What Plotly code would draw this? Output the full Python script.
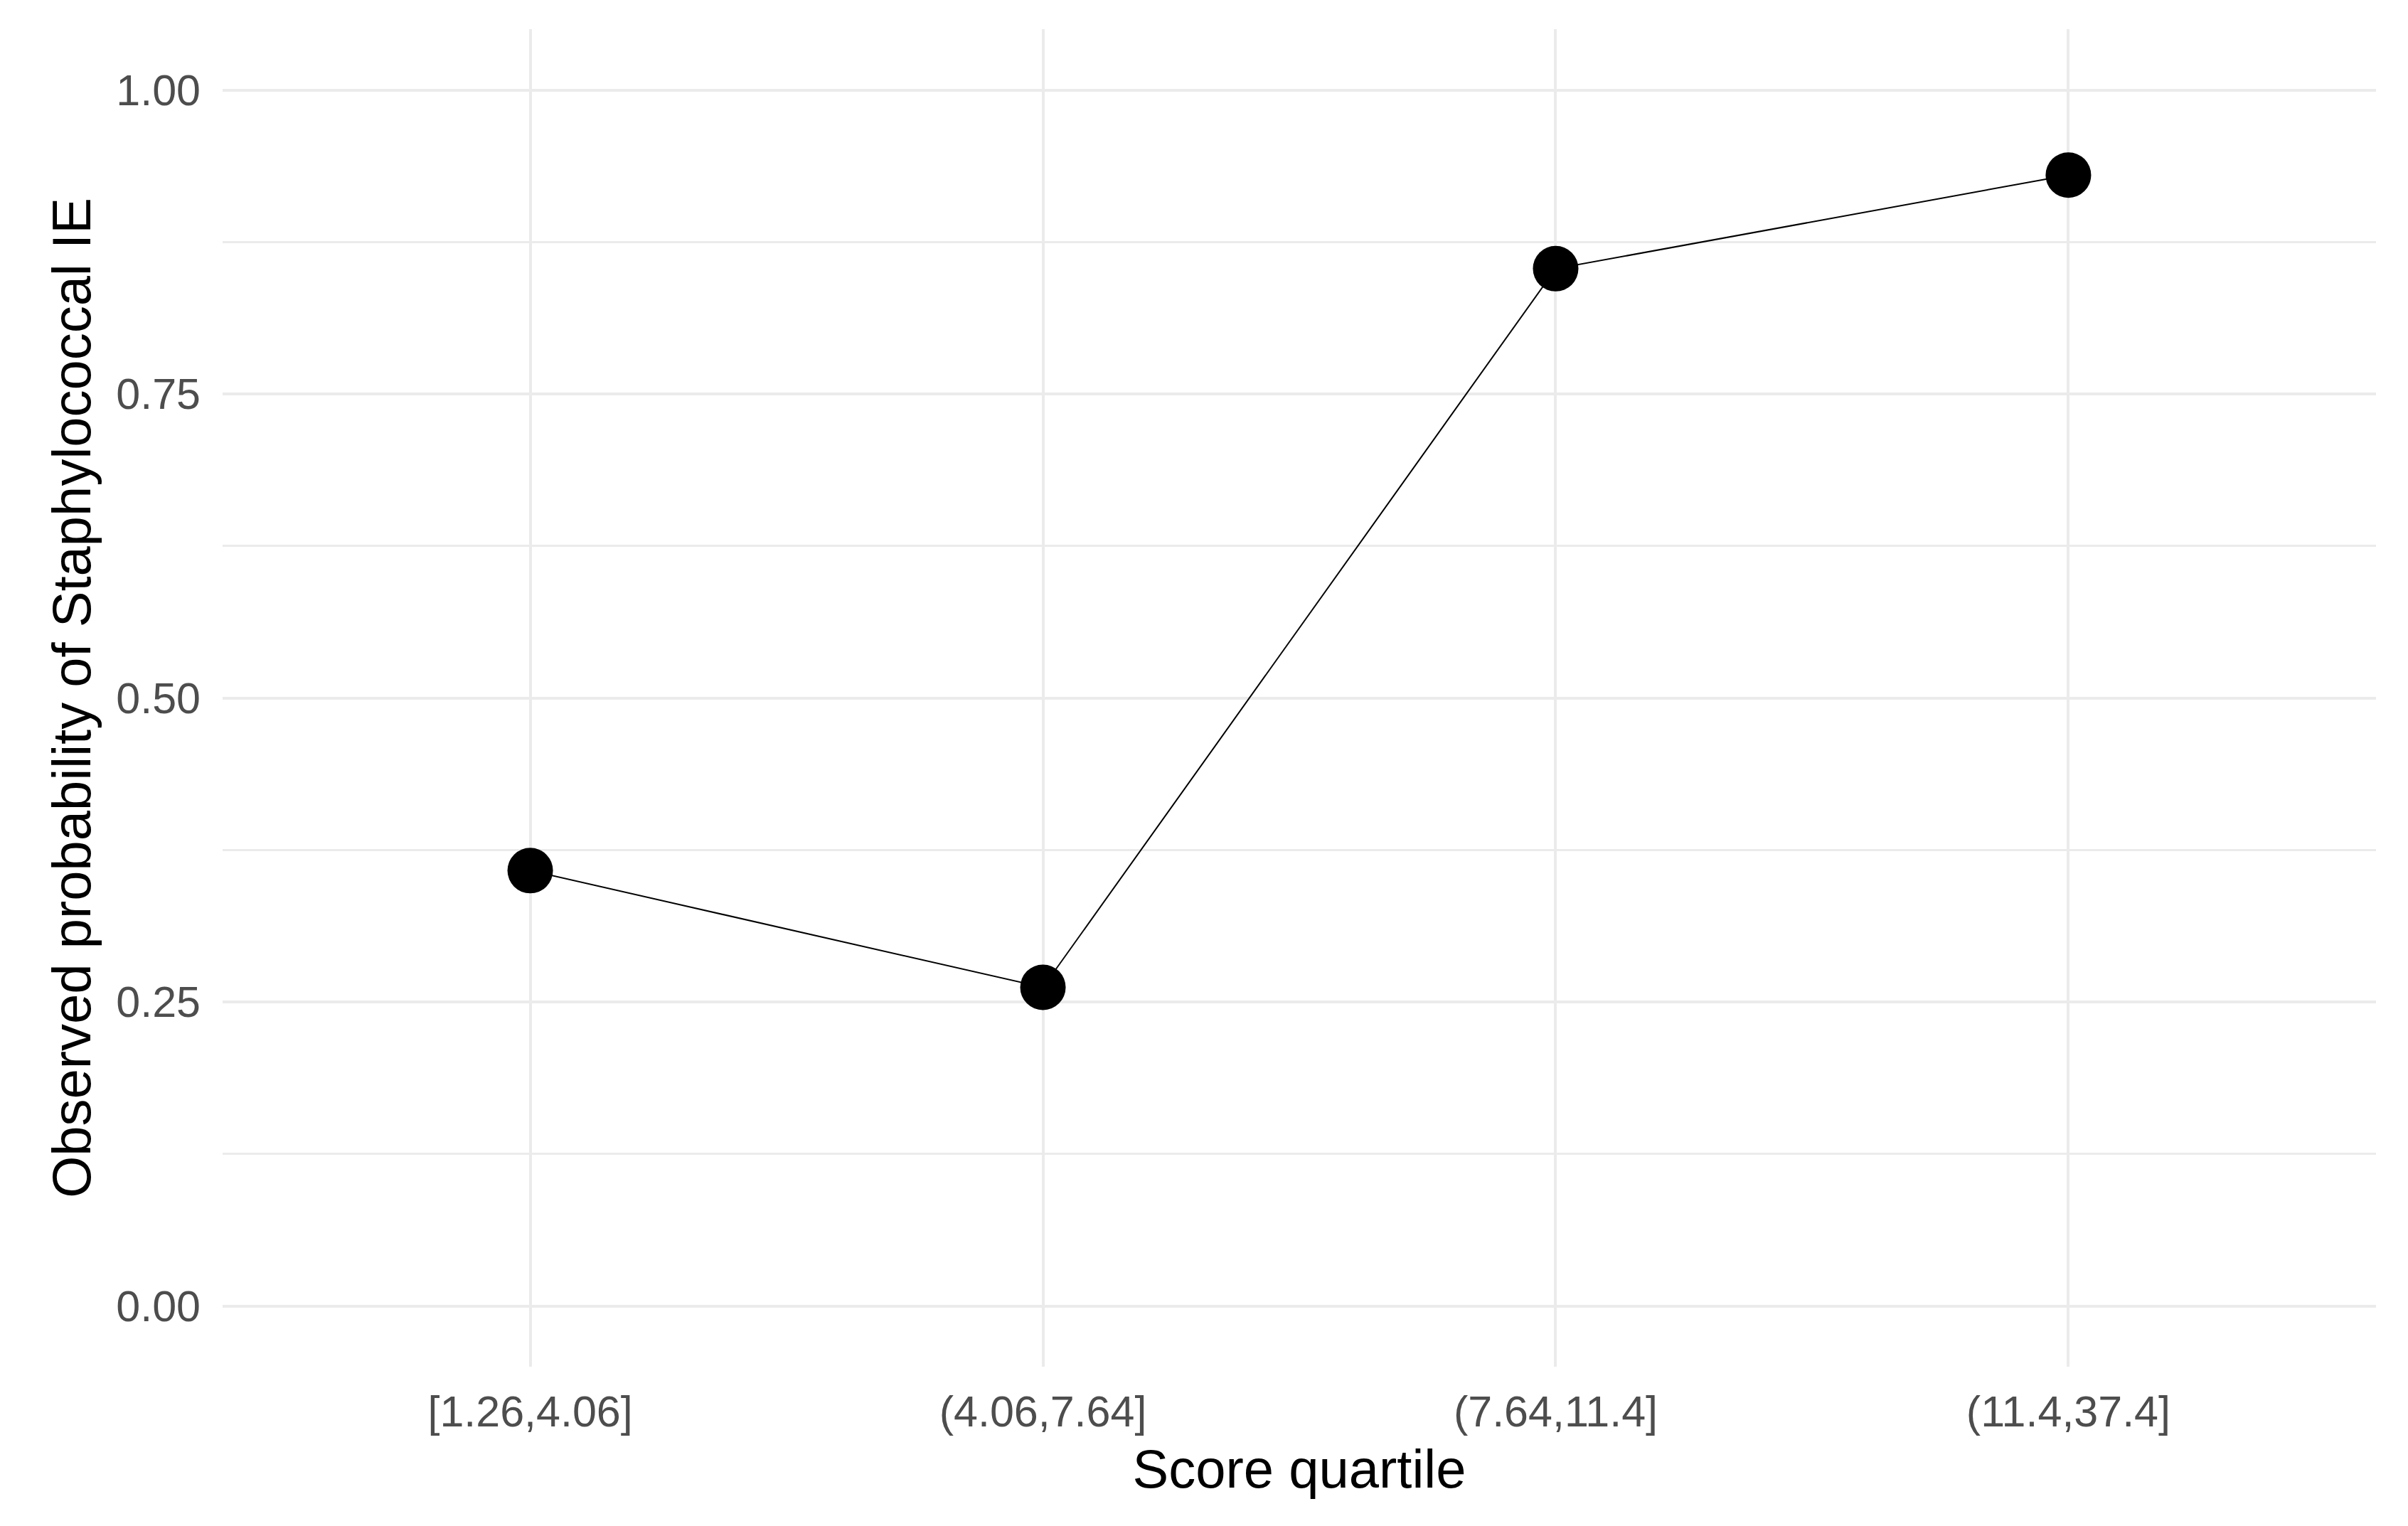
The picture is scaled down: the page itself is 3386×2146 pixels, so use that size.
import plotly.graph_objects as go

# Observed probability by score quartile
quartiles = ["[1.26,4.06]", "(4.06,7.64]", "(7.64,11.4]", "(11.4,37.4]"]
observed_prob = [0.358, 0.262, 0.853, 0.930]

y_ticks = [0.0, 0.25, 0.5, 0.75, 1.0]
y_tick_labels = ["0.00", "0.25", "0.50", "0.75", "1.00"]

FONT = "Liberation Sans, Arial, sans-serif"
GRID = "#EBEBEB"

fig = go.Figure()
fig.add_trace(go.Scatter(
    x=quartiles,
    y=observed_prob,
    mode="lines+markers",
    line=dict(color="black", width=2),
    marker=dict(color="black", size=64, line=dict(width=0)),
    showlegend=False,
))

fig.update_layout(
    width=3386, height=2146,
    margin=dict(l=305, r=53, t=33, b=232),
    paper_bgcolor="white", plot_bgcolor="white",
    font=dict(family=FONT, color="black"),
)

fig.update_xaxes(
    type="category",
    range=[-0.6, 3.6],
    showgrid=True, gridcolor=GRID, gridwidth=4,
    zeroline=False, showline=False, ticks="",
    tickfont=dict(size=61, color="#4D4D4D", family=FONT),
    ticklabelstandoff=22,
    title=dict(text="Score quartile", font=dict(size=76, color="black", family=FONT), standoff=20),
)

fig.update_yaxes(
    range=[-0.05, 1.05],
    tickvals=y_ticks, ticktext=y_tick_labels,
    showgrid=True, gridcolor=GRID, gridwidth=4,
    minor=dict(dtick=0.125, tick0=0, showgrid=True, gridcolor=GRID, gridwidth=3),
    zeroline=False, showline=False, ticks="",
    tickfont=dict(size=61, color="#4D4D4D", family=FONT),
    ticklabelstandoff=30,
    title=dict(text="Observed probability of Staphylococcal IE",
               font=dict(size=76, color="black", family=FONT), standoff=10),
)

fig.write_html("out.html")
